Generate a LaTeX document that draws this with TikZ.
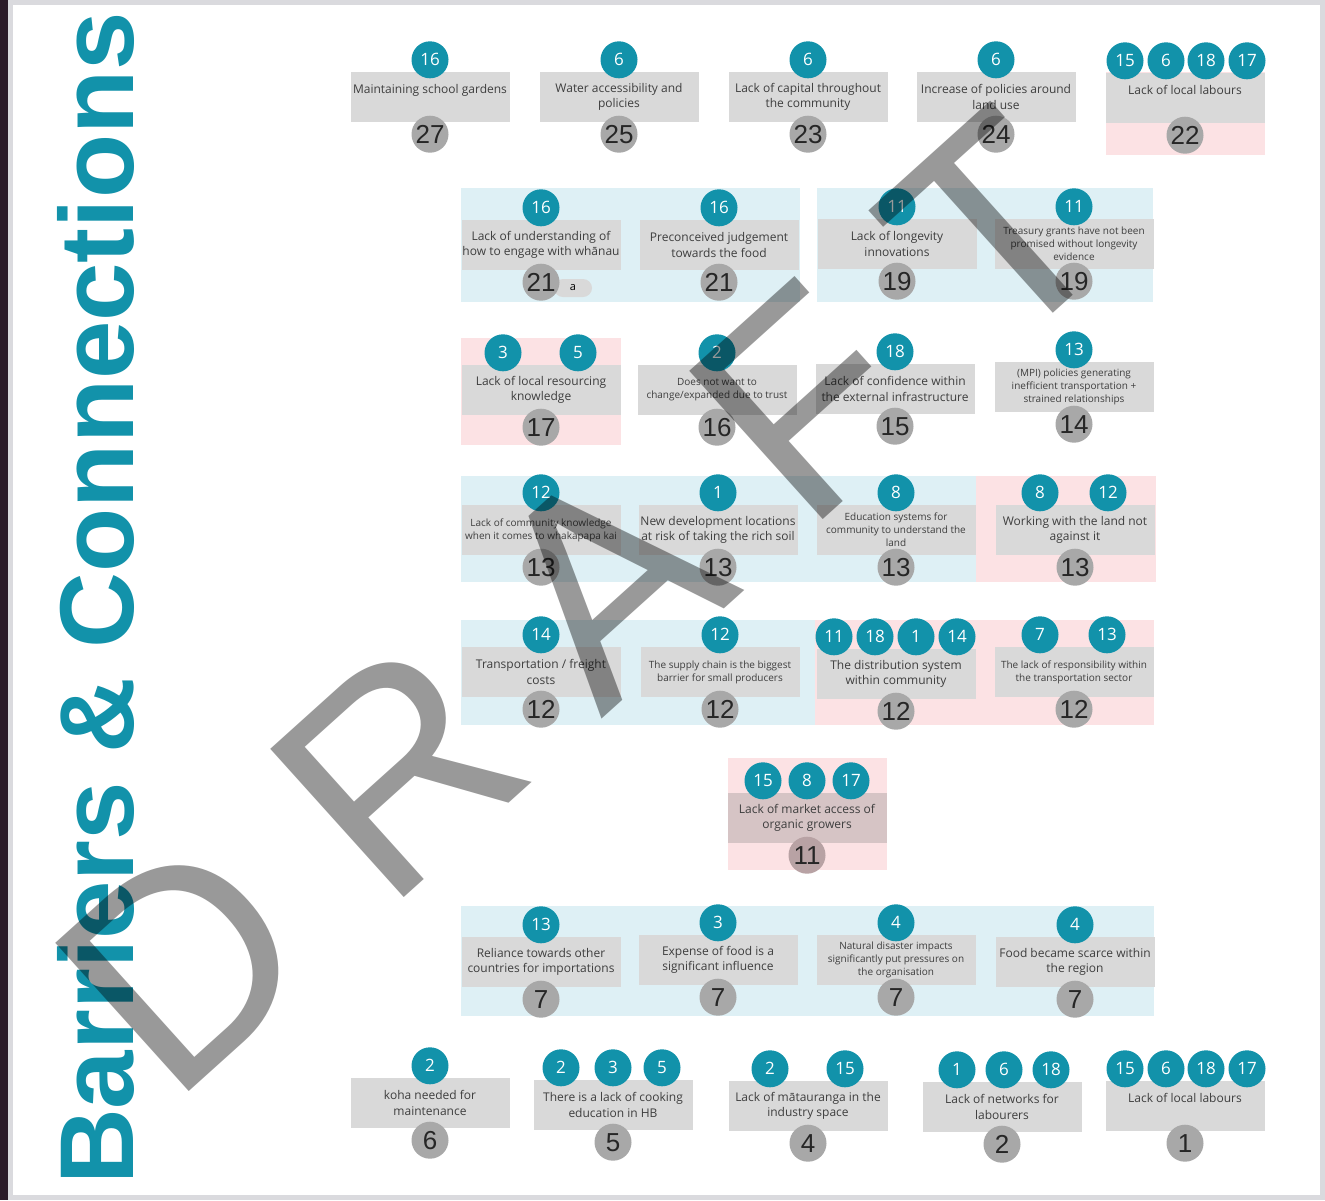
\documentclass[tikz,border=0pt]{standalone}
\usepackage{fontspec}
\setmainfont{Open Sans}
\newfontfamily\numfont{Liberation Sans}
\usetikzlibrary{calc}

\definecolor{bcteal}{RGB}{18,146,170}
\definecolor{cardgray}{RGB}{217,217,217}
\definecolor{rankgray}{RGB}{168,168,168}
\definecolor{cardtext}{RGB}{62,62,62}
\definecolor{panelblue}{RGB}{222,240,245}
\definecolor{panelpink}{RGB}{252,226,228}
\definecolor{cardpink}{RGB}{214,196,197}
\definecolor{rankpink}{RGB}{184,162,164}
\definecolor{framegray}{RGB}{218,218,222}
\definecolor{screendark}{RGB}{42,26,40}

% one barrier card: [variant]{name}{x}{y}{text}{rank}{offset/number list}
\newcommand{\barrier}[7][]{%
  \node[#1card] (#2) at (#3,#4) {#5};
  \foreach \dx/\num in {#7}
    \node[conn] (#2-\num) at ($(#2.north)+(\dx,-12)$) {\num};
  \node[#1rank] (#2-rank) at ($(#2.south)+(0,12)$) {#6};
}

\begin{document}
\begin{tikzpicture}[x=1pt, y=-1pt,
    card/.style={rectangle, fill=cardgray, minimum width=159pt, minimum height=50pt,
        inner sep=0pt, align=center, text=cardtext, font=\fontsize{12}{15.5}\selectfont},
    smallcard/.style={card, font=\fontsize{10}{13}\selectfont},
    pinkcard/.style={card, fill=cardpink},
    conn/.style={circle, fill=bcteal, text=white, minimum size=37pt, inner sep=0pt,
        font=\fontsize{17}{17}\selectfont},
    rank/.style={circle, fill=rankgray, text=black!85, minimum size=37pt, inner sep=0pt,
        font=\numfont\fontsize{26}{26}\selectfont},
    smallrank/.style={rank},
    pinkrank/.style={rank, fill=rankpink}
]
\useasboundingbox (0,0) rectangle (1325,1200);

% 1. Screen frame and page
\fill[framegray] (0,0) rectangle (1325,1200);
\fill[screendark] (0,0) rectangle (8,1200);
\fill[white] (13,5) rectangle (1320,1195);

% 2. Title along the left side
\node[rotate=90, anchor=base west, inner sep=0pt, text=bcteal,
      font=\numfont\bfseries\fontsize{105}{105}\selectfont] (title) at (133,1185) {Barriers \& Connections};

% 3. Background panels (blue = shared, pink = flagged)
\fill[panelpink] (1106,72) rectangle (1265,155);
\fill[panelblue] (461,188) rectangle (800,302);
\fill[panelblue] (817,188) rectangle (1153,302);
\fill[panelpink] (461,338) rectangle (621,445);
\fill[panelblue] (461,476) rectangle (976,582);
\fill[panelpink] (976,476) rectangle (1156,582);
\fill[panelblue] (461,620) rectangle (815,725);
\fill[panelpink] (815,620) rectangle (1154,725);
\fill[panelpink] (728,758) rectangle (887,870);
\fill[panelblue] (461,906) rectangle (1154,1016);

% 4. Row 27 - 22
\barrier{b27}{430}{97}{Maintaining school gardens\\~}{27}{0/16}
\barrier{b25}{619}{97}{Water accessibility and\\policies}{25}{0/6}
\barrier{b23}{808}{97}{Lack of capital throughout\\the community}{23}{0/6}
\barrier{b24}{996}{97}{Increase of policies around\\land use}{24}{0/6}
\barrier{b22}{1185}{98}{Lack of local labours\\~}{22}{-60/15, -19/6, 21/18, 62/17}

% 5. Row 21 - 19
\node[rectangle, rounded corners=9pt, fill=cardgray, minimum width=38pt, minimum height=18pt,
      inner sep=0pt, font=\fontsize{11}{11}\selectfont] (pill) at (573,288) {a};
\barrier{b21a}{541}{245}{Lack of understanding of\\how to engage with whānau}{21}{0/16}
\barrier{b21b}{719}{245}{Preconceived judgement\\towards the food}{21}{0/16}
\barrier{b19a}{897}{244}{Lack of longevity\\innovations}{19}{0/11}
\barrier[small]{b19b}{1074}{244}{Treasury grants have not been\\promised without longevity\\evidence}{19}{0/11}

% 6. Row 17 - 14
\barrier{b17}{541}{390}{Lack of local resourcing\\knowledge}{17}{-38/3, 37/5}
\barrier[small]{b16}{717}{390}{Does not want to\\change/expanded due to trust}{16}{0/2}
\barrier{b15}{895}{389}{Lack of confidence within\\the external infrastructure}{15}{0/18}
\barrier[small]{b14}{1074}{387}{(MPI) policies generating\\inefficient transportation +\\strained relationships}{14}{0/13}

% 7. Row 13
\barrier[small]{b13a}{541}{530}{Lack of community knowledge\\when it comes to whakapapa kai}{13}{0/12}
\barrier{b13b}{718}{530}{New development locations\\at risk of taking the rich soil}{13}{0/1}
\barrier[small]{b13c}{896}{530}{Education systems for\\community to understand the\\land}{13}{0/8}
\barrier{b13d}{1075}{530}{Working with the land not\\against it}{13}{-35/8, 33/12}

% 8. Row 12
\barrier{b12a}{541}{672}{Transportation / freight\\costs}{12}{0/14}
\barrier[small]{b12b}{720}{672}{The supply chain is the biggest\\barrier for small producers}{12}{0/12}
\barrier{b12c}{896}{674}{The distribution system\\within community}{12}{-62/11, -21/18, 20/1, 61/14}
\barrier[small]{b12d}{1074}{672}{The lack of responsibility within\\the transportation sector}{12}{-34/7, 33/13}

% 9. Row 11
\barrier[pink]{b11}{807}{818}{Lack of market access of\\organic growers}{11}{-44/15, 0/8, 44/17}

% 10. Row 7
\barrier{b7a}{541}{962}{Reliance towards other\\countries for importations}{7}{0/13}
\barrier{b7b}{718}{960}{Expense of food is a\\significant influence}{7}{0/3}
\barrier[small]{b7c}{896}{960}{Natural disaster impacts\\significantly put pressures on\\the organisation}{7}{0/4}
\barrier{b7d}{1075}{962}{Food became scarce within\\the region}{7}{0/4}

% 11. Row 6 - 1
\barrier{b6}{430}{1103}{koha needed for\\maintenance}{6}{0/2}
\barrier{b5}{613}{1105}{There is a lack of cooking\\education in HB}{5}{-52/2, 0/3, 49/5}
\barrier{b4}{808}{1106}{Lack of mātauranga in the\\industry space}{4}{-38/2, 37/15}
\barrier{b2}{1002}{1107}{Lack of networks for\\labourers}{2}{-45/1, 2/6, 49/18}
\barrier{b1}{1185}{1106}{Lack of local labours\\~}{1}{-60/15, -19/6, 21/18, 62/17}

% 12. Watermark
\node[rotate=42, anchor=base, inner sep=0pt, text=black, text opacity=0.4,
      font=\numfont\fontsize{290}{290}\selectfont] (draft) at (650,676) {D R A F T};

\end{tikzpicture}
\end{document}
